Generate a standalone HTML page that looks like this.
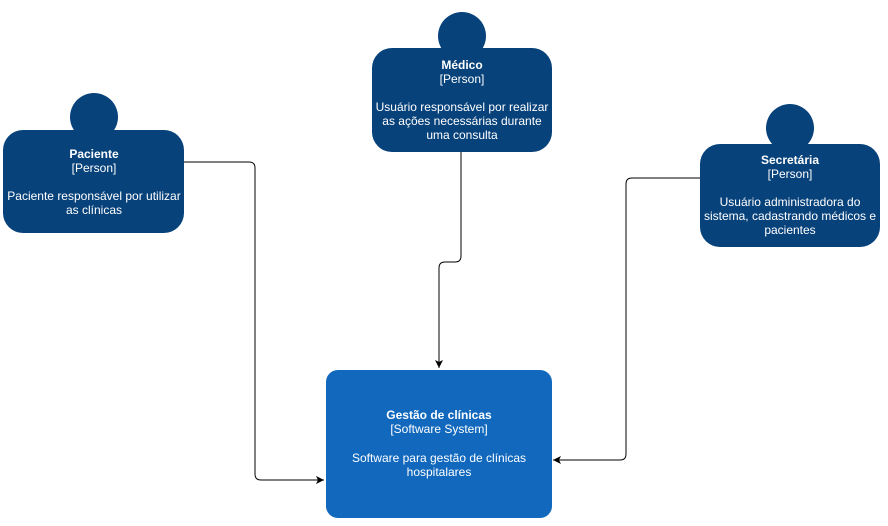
<!DOCTYPE html>
<html><head><meta charset="utf-8"><style>
html,body{margin:0;padding:0;background:#fff;}
svg text{font-family:"Liberation Sans",Arial,sans-serif;font-size:12px;fill:#fff;text-anchor:middle;}
</style></head><body>
<svg width="888" height="521" viewBox="0 0 888 521" xmlns="http://www.w3.org/2000/svg">
<defs><marker id="a" markerWidth="10" markerHeight="10" refX="8" refY="4" orient="auto" markerUnits="userSpaceOnUse"><path d="M0,0 L8,4 L0,8 L2,4 Z" fill="#000"/></marker></defs>
<g fill="none" stroke="#000" stroke-width="1">
<path d="M184,162 H249 Q255,162 255,168 V474 Q255,480 261,480 H324" marker-end="url(#a)"/>
<path d="M461,152 V256 Q461,262 455,262 H445 Q439,262 439,268 V368" marker-end="url(#a)"/>
<path d="M700,178 H632 Q626,178 626,184 V454 Q626,460 620,460 H553" marker-end="url(#a)"/>
</g>
<g fill="#08427B">
<circle cx="94" cy="117" r="24"/><rect x="3" y="130" width="181" height="103" rx="20"/>
<circle cx="462" cy="36" r="24"/><rect x="372" y="48" width="180" height="104" rx="20"/>
<circle cx="790" cy="128" r="24"/><rect x="700" y="144" width="180" height="103" rx="20"/>
</g>
<rect x="326" y="370" width="226" height="148" rx="12" fill="#1168BD"/>
<text x="94" y="158" font-weight="bold">Paciente</text>
<text x="94" y="172">[Person]</text>
<text x="94" y="200">Paciente responsável por utilizar</text>
<text x="94" y="214">as clínicas</text>
<text x="462" y="69" font-weight="bold">Médico</text>
<text x="462" y="83">[Person]</text>
<text x="462" y="111">Usuário responsável por realizar</text>
<text x="462" y="125">as ações necessárias durante</text>
<text x="462" y="139">uma consulta</text>
<text x="790" y="164" font-weight="bold">Secretária</text>
<text x="790" y="178">[Person]</text>
<text x="790" y="206">Usuário administradora do</text>
<text x="790" y="220">sistema, cadastrando médicos e</text>
<text x="790" y="234">pacientes</text>
<text x="439" y="419" font-weight="bold">Gestão de clínicas</text>
<text x="439" y="433">[Software System]</text>
<text x="439" y="462">Software para gestão de clínicas</text>
<text x="439" y="476">hospitalares</text>
</svg>
</body></html>
